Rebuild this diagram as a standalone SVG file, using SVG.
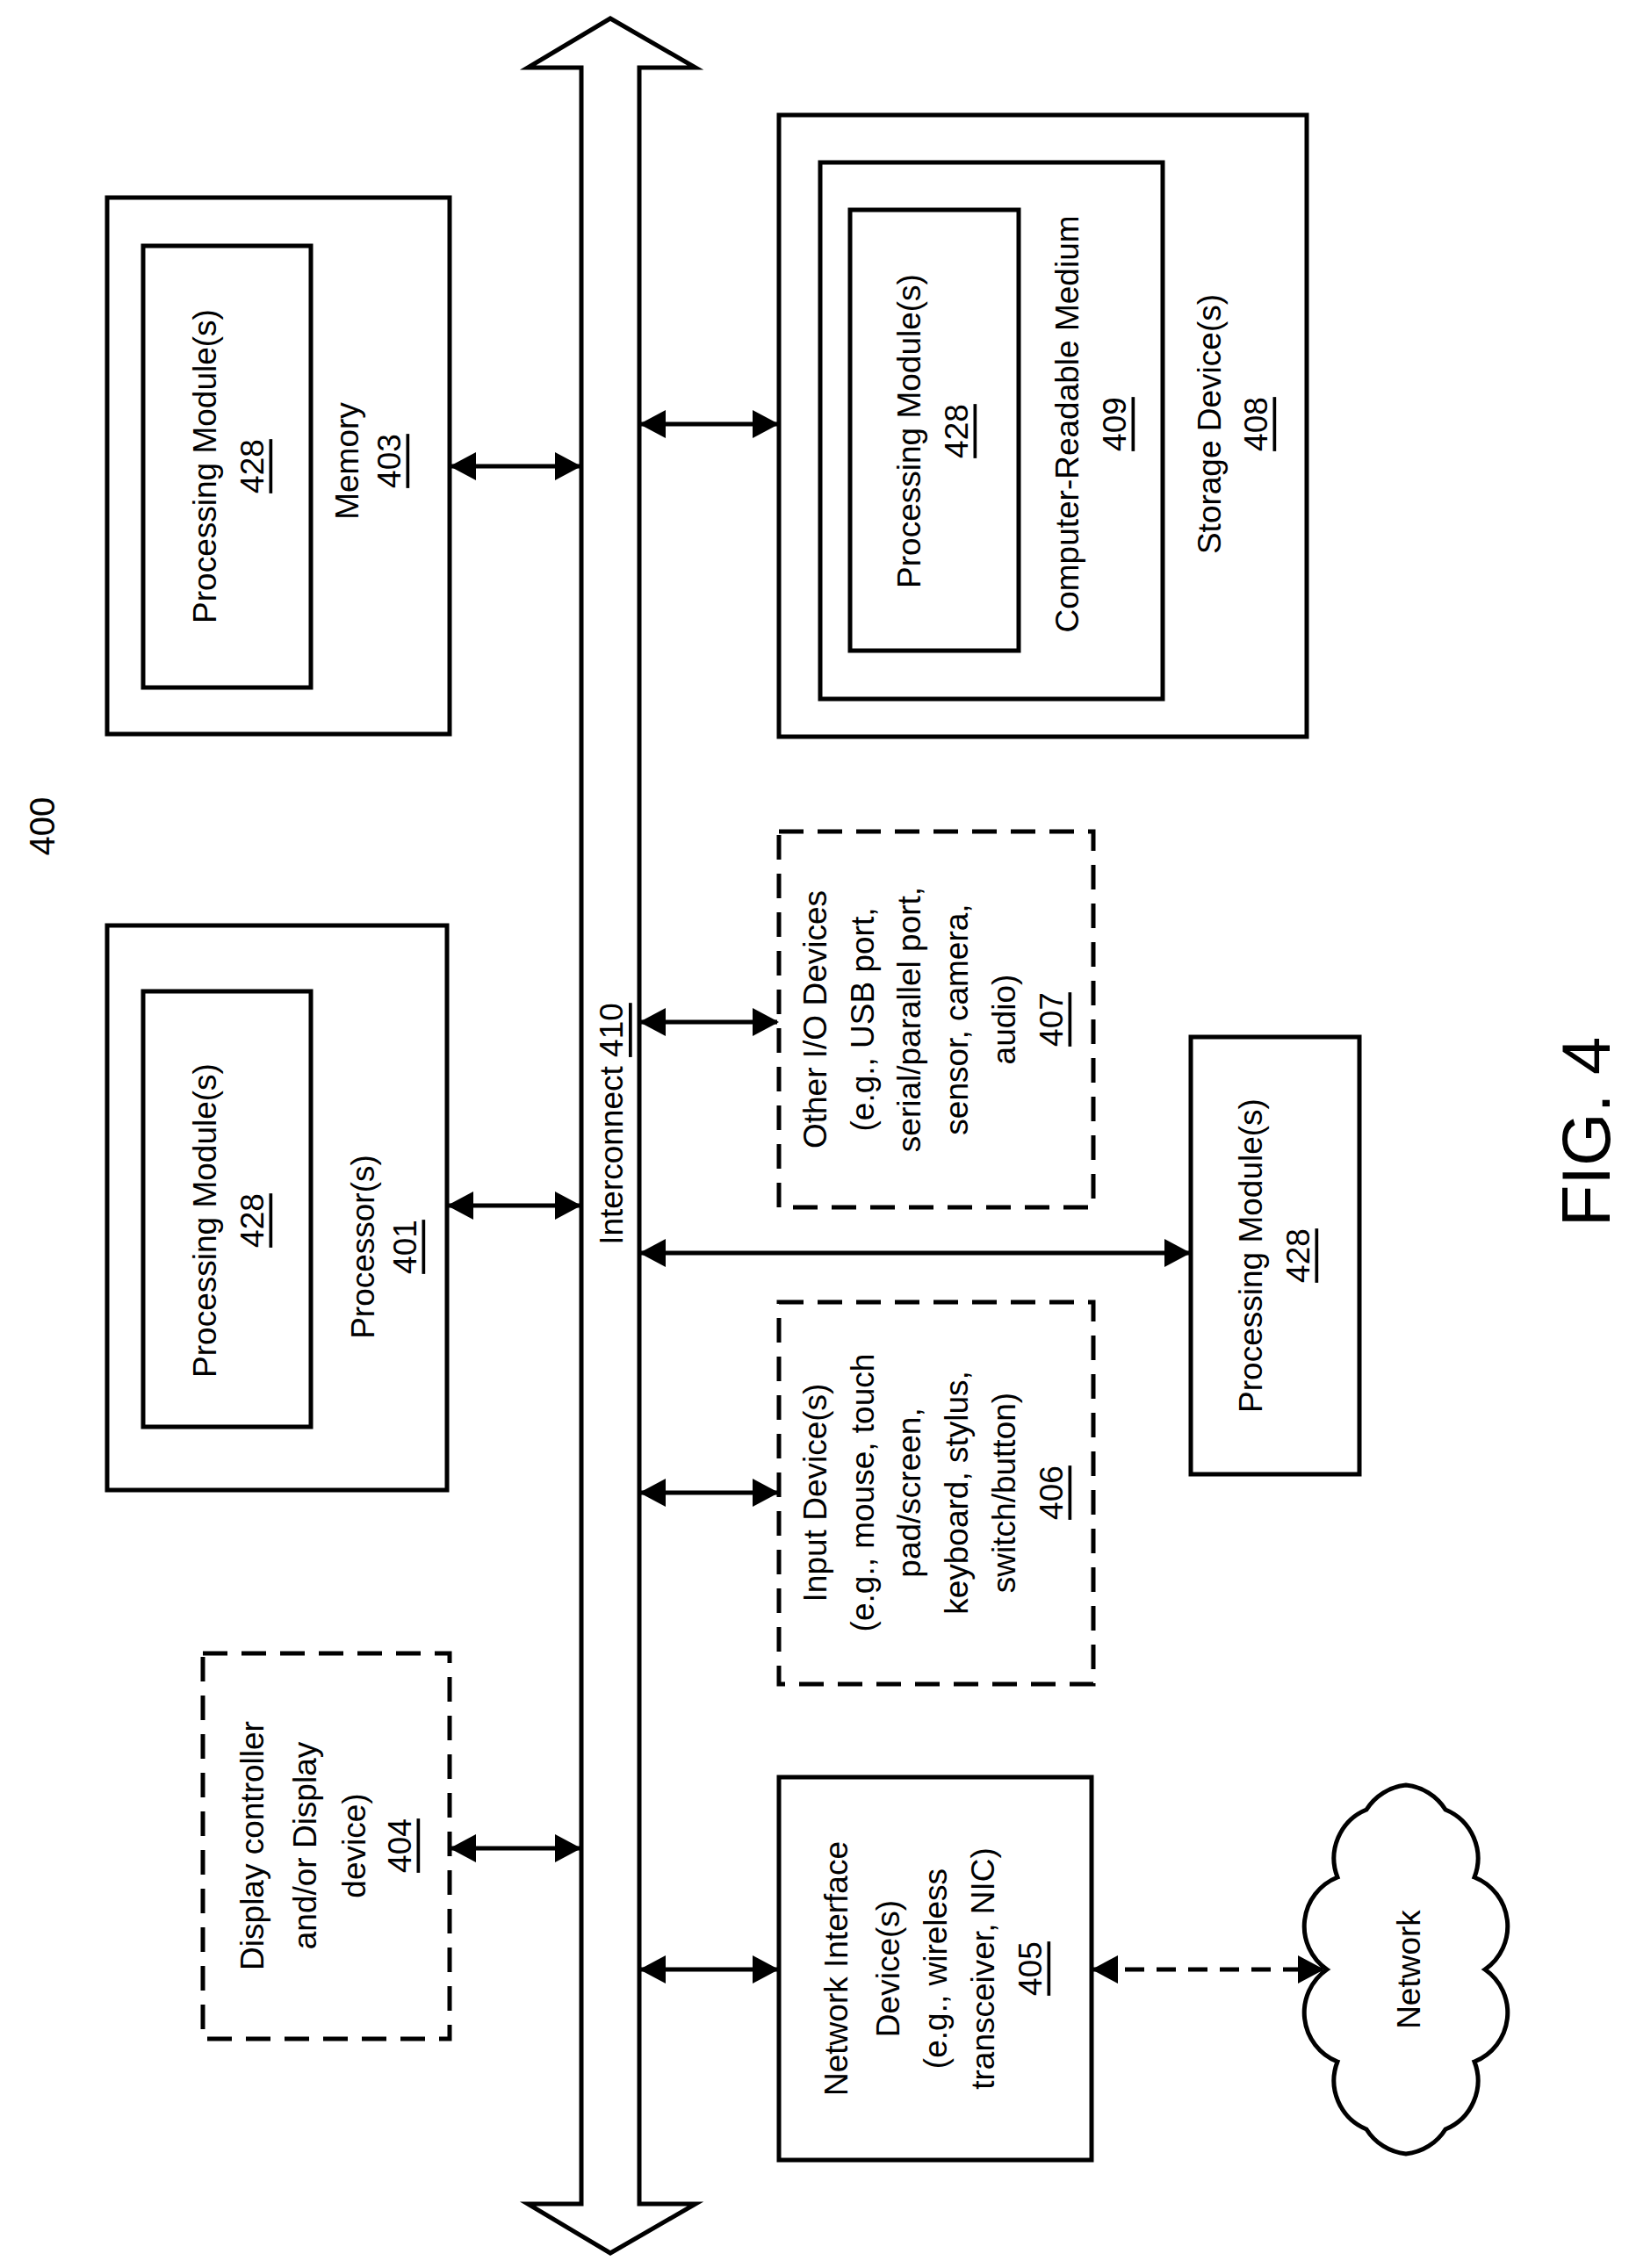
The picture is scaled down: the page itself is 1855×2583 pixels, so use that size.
<svg xmlns="http://www.w3.org/2000/svg" width="1855" height="2583" viewBox="0 0 1855 2583">
<style>
.b{fill:#fff;stroke:#000;stroke-width:5}
.d{fill:#fff;stroke:#000;stroke-width:5;stroke-dasharray:28 16}
.t{font-family:"Liberation Sans",Arial,sans-serif;font-size:37px;fill:#000;text-anchor:middle;dominant-baseline:central}
.u{text-decoration:underline}
.c{stroke:#000;stroke-width:5;fill:none}
</style>
<defs>
<marker id="a" markerUnits="userSpaceOnUse" markerWidth="30" markerHeight="32" refX="28" refY="16" orient="auto-start-reverse" viewBox="0 0 30 32"><path d="M0 0L30 16L0 32Z"/></marker>
</defs>
<g id="bus"><path class="b" d="M662 2510V77H601L695 21L792 77H728V2510H792L695 2566L601 2510Z"/>
<text class="t" transform="rotate(-90 696 1280)" x="696" y="1280">Interconnect <tspan class="u">410</tspan></text></g>
<g id="label400"><text class="t" style="font-size:40px" transform="rotate(-90 48 941)" x="48" y="941">400</text></g>
<g id="memory"><rect class="b" x="122" y="225" width="390" height="611"/><rect class="b" x="163" y="280" width="191" height="503"/>
<text class="t" transform="rotate(-90 233 531)" x="233" y="531">Processing Module(s)</text>
<text class="t u" transform="rotate(-90 287 531)" x="287" y="531">428</text>
<text class="t" transform="rotate(-90 395 525)" x="395" y="525">Memory</text>
<text class="t u" transform="rotate(-90 443 525)" x="443" y="525">403</text></g>
<g id="storage"><rect class="b" x="887" y="131" width="601" height="708"/><rect class="b" x="934" y="185" width="390" height="611"/><rect class="b" x="968" y="239" width="192" height="502"/>
<text class="t" transform="rotate(-90 1035 491)" x="1035" y="491">Processing Module(s)</text>
<text class="t u" transform="rotate(-90 1089 491)" x="1089" y="491">428</text>
<text class="t" transform="rotate(-90 1215 483)" x="1215" y="483">Computer-Readable Medium</text>
<text class="t u" transform="rotate(-90 1269 483)" x="1269" y="483">409</text>
<text class="t" transform="rotate(-90 1377 483)" x="1377" y="483">Storage Device(s)</text>
<text class="t u" transform="rotate(-90 1430 483)" x="1430" y="483">408</text></g>
<g id="otherio"><rect class="d" x="887" y="947" width="358" height="428"/>
<text class="t" transform="rotate(-90 928 1161)" x="928" y="1161">Other I/O Devices</text>
<text class="t" transform="rotate(-90 982 1161)" x="982" y="1161">(e.g., USB port,</text>
<text class="t" transform="rotate(-90 1035 1161)" x="1035" y="1161">serial/parallel port,</text>
<text class="t" transform="rotate(-90 1089 1161)" x="1089" y="1161">sensor, camera,</text>
<text class="t" transform="rotate(-90 1143 1161)" x="1143" y="1161">audio)</text>
<text class="t u" transform="rotate(-90 1197 1161)" x="1197" y="1161">407</text></g>
<g id="processor"><rect class="b" x="122" y="1054" width="387" height="643"/><rect class="b" x="163" y="1129" width="191" height="496"/>
<text class="t" transform="rotate(-90 233 1390)" x="233" y="1390">Processing Module(s)</text>
<text class="t u" transform="rotate(-90 287 1390)" x="287" y="1390">428</text>
<text class="t" transform="rotate(-90 413 1420)" x="413" y="1420">Processor(s)</text>
<text class="t u" transform="rotate(-90 461 1420)" x="461" y="1420">401</text></g>
<g id="pm"><rect class="b" x="1356" y="1181" width="192" height="498"/>
<text class="t" transform="rotate(-90 1424 1430)" x="1424" y="1430">Processing Module(s)</text>
<text class="t u" transform="rotate(-90 1478 1430)" x="1478" y="1430">428</text></g>
<g id="input"><rect class="d" x="887" y="1483" width="358" height="435"/>
<text class="t" transform="rotate(-90 928 1700)" x="928" y="1700">Input Device(s)</text>
<text class="t" transform="rotate(-90 982 1700)" x="982" y="1700">(e.g., mouse, touch</text>
<text class="t" transform="rotate(-90 1035 1700)" x="1035" y="1700">pad/screen,</text>
<text class="t" transform="rotate(-90 1089 1700)" x="1089" y="1700">keyboard, stylus,</text>
<text class="t" transform="rotate(-90 1143 1700)" x="1143" y="1700">switch/button)</text>
<text class="t u" transform="rotate(-90 1197 1700)" x="1197" y="1700">406</text></g>
<g id="display"><rect class="d" x="231" y="1883" width="281" height="439"/>
<text class="t" transform="rotate(-90 287 2102)" x="287" y="2102">Display controller</text>
<text class="t" transform="rotate(-90 347 2102)" x="347" y="2102">and/or Display</text>
<text class="t" transform="rotate(-90 403 2102)" x="403" y="2102">device)</text>
<text class="t u" transform="rotate(-90 455 2102)" x="455" y="2102">404</text></g>
<g id="nid"><rect class="b" x="887" y="2024" width="356" height="436"/>
<text class="t" transform="rotate(-90 952 2242)" x="952" y="2242">Network Interface</text>
<text class="t" transform="rotate(-90 1011 2242)" x="1011" y="2242">Device(s)</text>
<text class="t" transform="rotate(-90 1065 2242)" x="1065" y="2242">(e.g., wireless</text>
<text class="t" transform="rotate(-90 1119 2242)" x="1119" y="2242">transceiver, NIC)</text>
<text class="t u" transform="rotate(-90 1173 2242)" x="1173" y="2242">405</text></g>
<g id="network"><path class="b" d="M1691 2243A60 60 0 0 1 1679 2348A60 60 0 0 1 1646 2425A60 60 0 0 1 1601 2453A60 60 0 0 1 1556 2425A60 60 0 0 1 1523 2348A60 60 0 0 1 1511 2243A60 60 0 0 1 1523 2138A60 60 0 0 1 1556 2061A60 60 0 0 1 1601 2033A60 60 0 0 1 1646 2061A60 60 0 0 1 1679 2138A60 60 0 0 1 1691 2243Z"/>
<text class="t" transform="rotate(-90 1604 2243)" x="1604" y="2243">Network</text></g>
<g id="fig"><text class="t" style="font-size:78px" transform="rotate(-90 1806 1289)" x="1806" y="1289">FIG. 4</text></g>
<g id="connectors">
<line class="c" x1="514" y1="531" x2="660" y2="531" marker-start="url(#a)" marker-end="url(#a)"/>
<line class="c" x1="730" y1="483" x2="885" y2="483" marker-start="url(#a)" marker-end="url(#a)"/>
<line class="c" x1="730" y1="1164" x2="885" y2="1164" marker-start="url(#a)" marker-end="url(#a)"/>
<line class="c" x1="511" y1="1373" x2="660" y2="1373" marker-start="url(#a)" marker-end="url(#a)"/>
<line class="c" x1="730" y1="1427" x2="1354" y2="1427" marker-start="url(#a)" marker-end="url(#a)"/>
<line class="c" x1="730" y1="1700" x2="885" y2="1700" marker-start="url(#a)" marker-end="url(#a)"/>
<line class="c" x1="514" y1="2105" x2="660" y2="2105" marker-start="url(#a)" marker-end="url(#a)"/>
<line class="c" x1="730" y1="2243" x2="885" y2="2243" marker-start="url(#a)" marker-end="url(#a)"/>
<line class="c" x1="1245" y1="2243" x2="1506" y2="2243" stroke-dasharray="22 14" marker-start="url(#a)" marker-end="url(#a)"/>
</g>
</svg>
